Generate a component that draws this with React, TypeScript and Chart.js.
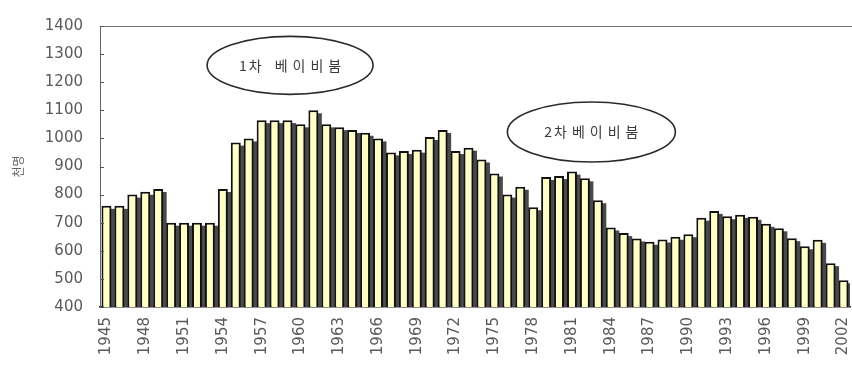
import React, { useEffect, useRef } from 'react';
import { Chart, registerables } from 'chart.js';

Chart.register(...registerables);

// 연도별 출생아 수 (천명)
const years: string[] = [
  '1945', '1946', '1947', '1948', '1949', '1950', '1951', '1952', '1953', '1954',
  '1955', '1956', '1957', '1958', '1959', '1960', '1961', '1962', '1963', '1964',
  '1965', '1966', '1967', '1968', '1969', '1970', '1971', '1972', '1973', '1974',
  '1975', '1976', '1977', '1978', '1979', '1980', '1981', '1982', '1983', '1984',
  '1985', '1986', '1987', '1988', '1989', '1990', '1991', '1992', '1993', '1994',
  '1995', '1996', '1997', '1998', '1999', '2000', '2001', '2002',
];

const births: number[] = [
  760, 760, 800, 810, 820, 700, 700, 700, 700, 820,
  985, 1000, 1065, 1065, 1065, 1050, 1100, 1050, 1040, 1030,
  1020, 1000, 950, 955, 960, 1005, 1030, 955, 967, 925,
  875, 800, 828, 755, 863, 866, 882, 858, 780, 683,
  663, 644, 632, 640, 650, 659, 718, 742, 723, 728,
  721, 696, 680, 645, 616, 639, 556, 495,
];

const yMin = 400;
const yMax = 1400;
const yStep = 100;
const yTitle = '천명';
const xLabelEvery = 3;

// 말풍선 표시: 위치는 (범주 인덱스, 값) 좌표
const callouts = [
  { text: '1차 베이비붐', xIndex: 14.2, yValue: 1260, rx: 83, ry: 29 },
  { text: '2차베이비붐', xIndex: 37.5, yValue: 1023, rx: 84, ry: 30 },
];

const BAR_FILL = '#FFFFC6';
const BAR_EDGE = '#111111';
const SHADOW = '#4a4a4a';
const LABEL = '#5a5a5a';
const CALLOUT_FONT = '14px "Noto Sans CJK KR", sans-serif';
const CALLOUT_GAP = 5;

// 글자 사이를 띄워 가운데 정렬로 한 줄 쓰기 (숫자 뒤는 좁게)
function spacedText(ctx: CanvasRenderingContext2D, text: string, cx: number, cy: number, gap: number) {
  const chars = Array.from(text);
  const advances = chars.map((ch, i) => {
    const w = ctx.measureText(ch).width;
    if (i === chars.length - 1) return w;
    return w + (/[0-9]/.test(ch) ? 2 : gap);
  });
  const total = advances.reduce((a, b) => a + b, 0);
  let x = cx - total / 2;
  ctx.textAlign = 'left';
  ctx.textBaseline = 'middle';
  chars.forEach((ch, i) => {
    if (ch !== ' ') ctx.fillText(ch, x, cy);
    x += advances[i];
  });
}

const framePlugin = {
  id: 'frameAndShadows',
  beforeDraw(chart: any) {
    const { ctx, width, height } = chart;
    ctx.save();
    ctx.fillStyle = '#ffffff';
    ctx.fillRect(0, 0, width, height);
    ctx.restore();
  },
  // 막대 오른쪽 아래로 떨어지는 그림자
  beforeDatasetsDraw(chart: any) {
    const { ctx, chartArea } = chart;
    const meta = chart.getDatasetMeta(0);
    ctx.save();
    ctx.beginPath();
    ctx.rect(chartArea.left, chartArea.top, chartArea.right - chartArea.left, chartArea.bottom - chartArea.top);
    ctx.clip();
    ctx.fillStyle = SHADOW;
    meta.data.forEach((bar: any) => {
      const w = bar.width;
      const left = bar.x - w / 2 + 3.5;
      const top = bar.y + 3;
      ctx.fillRect(left, top, w, bar.base - top);
    });
    ctx.restore();
  },
  afterDatasetsDraw(chart: any) {
    const { ctx, scales } = chart;
    const x = scales.x;
    const y = scales.y;
    ctx.save();
    callouts.forEach((c) => {
      const cx = x.getPixelForValue(c.xIndex);
      const cy = y.getPixelForValue(c.yValue);
      ctx.beginPath();
      ctx.ellipse(cx, cy, c.rx, c.ry, 0, 0, Math.PI * 2);
      ctx.fillStyle = '#ffffff';
      ctx.fill();
      ctx.lineWidth = 1.6;
      ctx.strokeStyle = '#2a2a2a';
      ctx.stroke();
      ctx.font = CALLOUT_FONT;
      ctx.fillStyle = '#3a3a3a';
      spacedText(ctx, c.text, cx, cy, CALLOUT_GAP);
    });
    ctx.restore();
  },
  afterDraw(chart: any) {
    const { ctx, chartArea, scales } = chart;
    const y = scales.y;
    ctx.save();
    // 위쪽 테두리
    ctx.strokeStyle = '#777777';
    ctx.lineWidth = 1;
    ctx.beginPath();
    ctx.moveTo(chartArea.left, chartArea.top + 0.5);
    ctx.lineTo(chart.width, chartArea.top + 0.5);
    ctx.stroke();
    // 안쪽으로 향한 눈금
    ctx.strokeStyle = '#555555';
    y.ticks.forEach((t: any) => {
      const py = Math.round(y.getPixelForValue(t.value)) + 0.5;
      ctx.beginPath();
      ctx.moveTo(chartArea.left, py);
      ctx.lineTo(chartArea.left + 4, py);
      ctx.stroke();
    });
    ctx.restore();
  },
};

export default function App() {
  const canvasRef = useRef<HTMLCanvasElement | null>(null);

  useEffect(() => {
    if (!canvasRef.current) return;
    const chart = new Chart(canvasRef.current, {
      type: 'bar',
      data: {
        labels: years,
        datasets: [
          {
            data: births,
            backgroundColor: BAR_FILL,
            borderColor: BAR_EDGE,
            borderWidth: 2,
            borderSkipped: false,
            barPercentage: 0.77,
            categoryPercentage: 1,
          },
        ],
      },
      options: {
        responsive: false,
        animation: false,
        layout: { padding: { top: 15, right: 2, left: 0, bottom: 0 } },
        plugins: {
          legend: { display: false },
          tooltip: { enabled: false },
        },
        scales: {
          x: {
            grid: { display: false, drawTicks: false },
            border: { display: true, color: '#222222', width: 1.5 },
            ticks: {
              autoSkip: false,
              minRotation: 90,
              maxRotation: 90,
              padding: 10,
              color: LABEL,
              font: { family: '"DejaVu Sans", sans-serif', size: 15 },
              callback: (_v: any, i: number) => (i % xLabelEvery === 0 ? years[i] : ''),
            },
            afterFit: (s: any) => {
              s.height = 62;
              s.paddingLeft = 0;
              s.paddingRight = 0;
            },
          },
          y: {
            min: yMin,
            max: yMax,
            grid: { display: false, drawTicks: false },
            border: { display: true, color: '#666666', width: 1 },
            ticks: {
              stepSize: yStep,
              padding: 17,
              color: LABEL,
              font: { family: '"DejaVu Sans", sans-serif', size: 15 },
              callback: (v: any) => String(v),
            },
            title: {
              display: true,
              text: yTitle,
              color: '#666666',
              font: { family: '"Noto Sans CJK KR", sans-serif', size: 12 },
              padding: { top: 11, bottom: 0 },
            },
            afterFit: (s: any) => {
              s.width = 100;
            },
          },
        },
      },
      plugins: [framePlugin],
    });
    return () => chart.destroy();
  }, []);

  return (
    <div style={{ position: 'absolute', left: 0, top: 0, width: 852, height: 369, background: '#fff' }}>
      <canvas ref={canvasRef} width={852} height={369} />
    </div>
  );
}
